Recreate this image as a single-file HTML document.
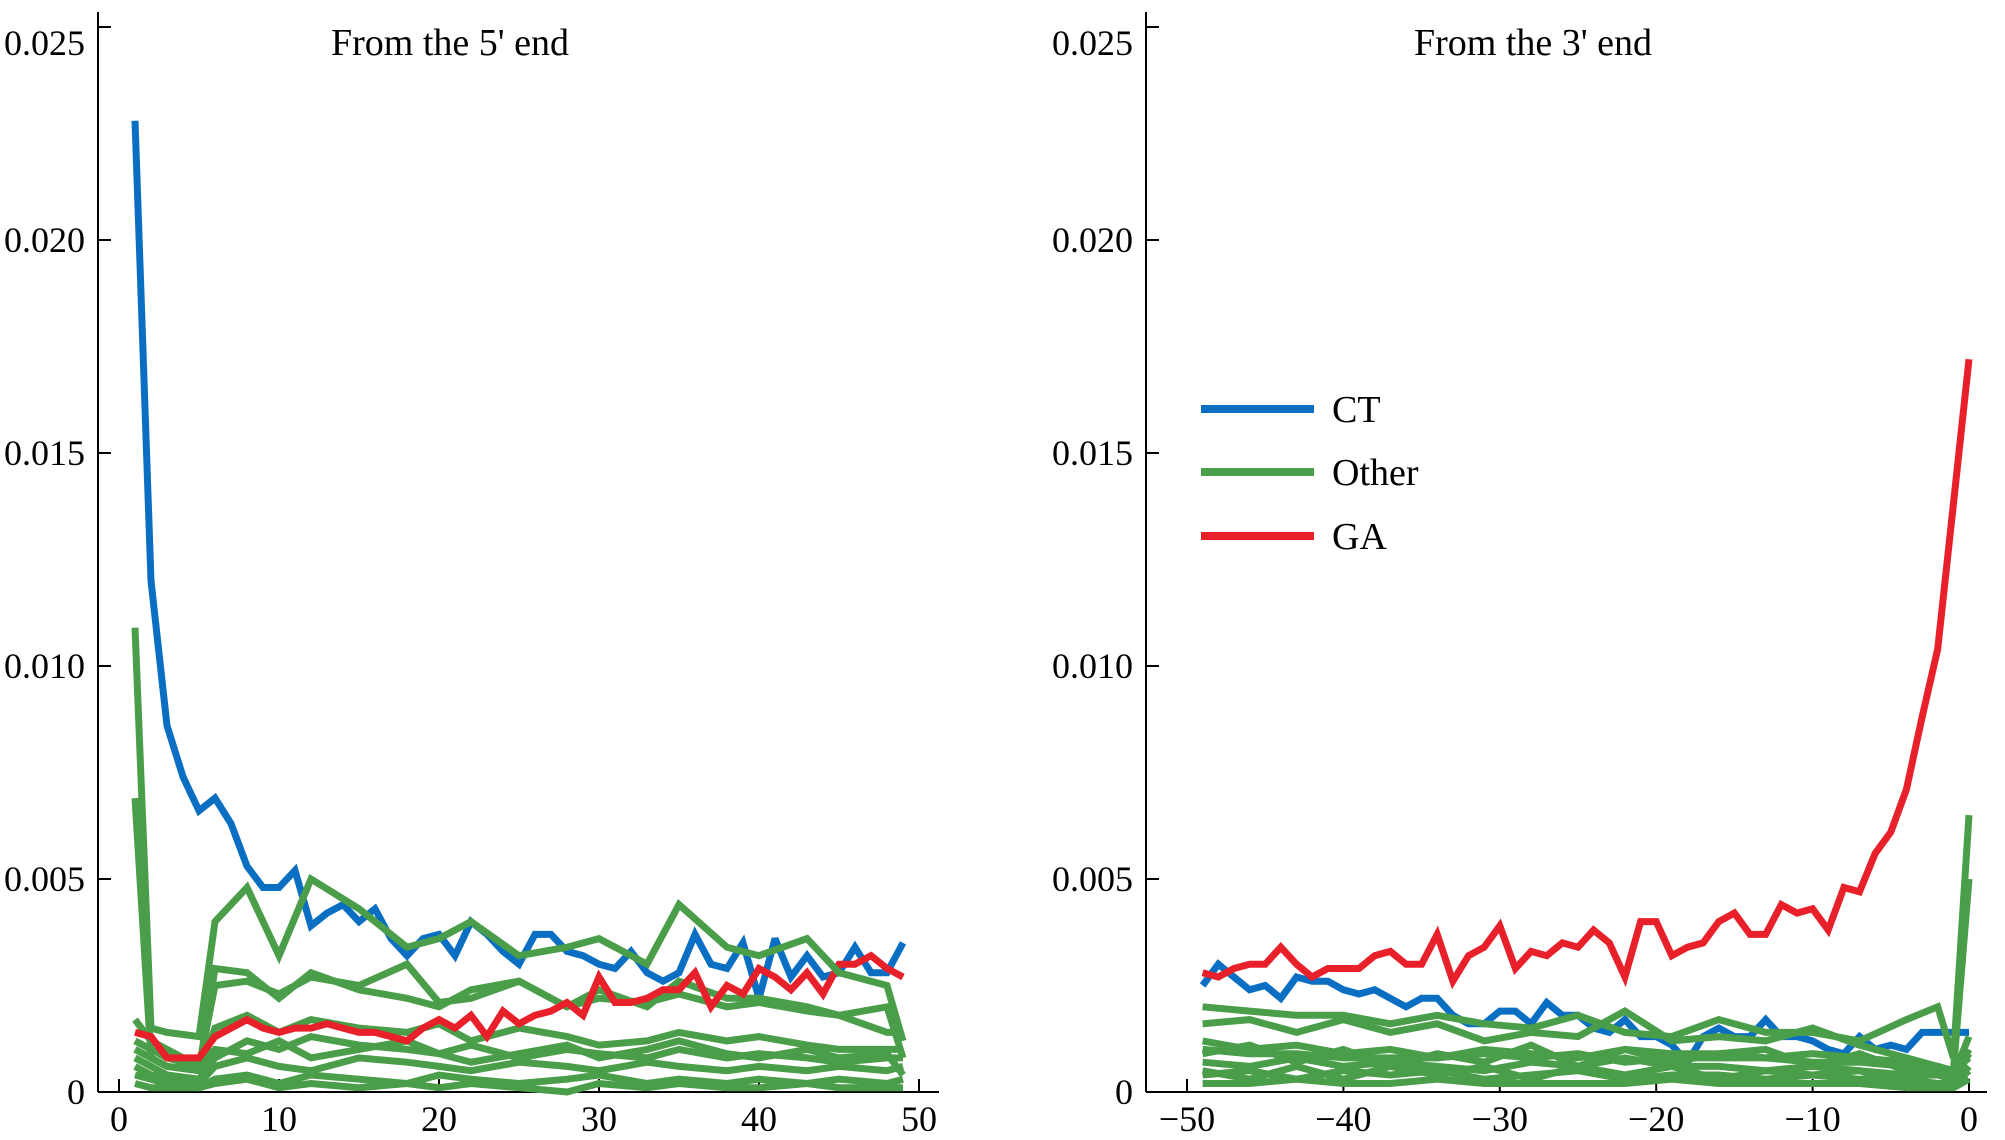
<!DOCTYPE html>
<html><head><meta charset="utf-8"><style>
html,body{margin:0;padding:0;background:#fff;}
svg{display:block;font-family:"Liberation Serif",serif;}
</style></head><body>
<svg id="chart" width="2005" height="1140" viewBox="0 0 2005 1140" xmlns="http://www.w3.org/2000/svg">
<g id="axes"></g><g id="marks"></g>
<g>
<line x1="1201" y1="409" x2="1314" y2="409" stroke="#0a6fc2" stroke-width="8"/>
<text x="1332" y="422" font-size="38">CT</text>
<line x1="1201" y1="472" x2="1314" y2="472" stroke="#4a9e4a" stroke-width="8"/>
<text x="1332" y="485" font-size="38">Other</text>
<line x1="1201" y1="536" x2="1314" y2="536" stroke="#e8202a" stroke-width="8"/>
<text x="1332" y="549" font-size="38">GA</text>
</g>
</svg>
<script>
const yTicks=[0,0.005,0.010,0.015,0.020,0.025];
const yTickLabels=["0","0.005","0.010","0.015","0.020","0.025"];
const xTicksL=[0,10,20,30,40,50];
const xTicksR=[-50,-40,-30,-20,-10,0];
const xTickLabelsR=["\u221250","\u221240","\u221230","\u221220","\u221210","0"];
const titles=["From the 5' end","From the 3' end"];
// Left panel
const xL=[1,2,3,4,5,6,7,8,9,10,11,12,13,14,15,16,17,18,19,20,21,22,23,24,25,26,27,28,29,30,31,32,33,34,35,36,37,38,39,40,41,42,43,44,45,46,47,48,49];
const ctL=[0.0228,0.012,0.0086,0.0074,0.0066,0.0069,0.0063,0.0053,0.0048,0.0048,0.0052,0.0039,0.0042,0.0044,0.0040,0.0043,0.0036,0.0032,0.0036,0.0037,0.0032,0.0040,0.0037,0.0033,0.0030,0.0037,0.0037,0.0033,0.0032,0.0030,0.0029,0.0033,0.0028,0.0026,0.0028,0.0037,0.0030,0.0029,0.0035,0.0022,0.0036,0.0027,0.0032,0.0027,0.0028,0.0034,0.0028,0.0028,0.0035];
const gaL=[0.0014,0.0013,0.0008,0.0008,0.0008,0.0013,0.0015,0.0017,0.0015,0.0014,0.0015,0.0015,0.0016,0.0015,0.0014,0.0014,0.0013,0.0012,0.0015,0.0017,0.0015,0.0018,0.0013,0.0019,0.0016,0.0018,0.0019,0.0021,0.0018,0.0027,0.0021,0.0021,0.0022,0.0024,0.0024,0.0028,0.0020,0.0025,0.0023,0.0029,0.0027,0.0024,0.0028,0.0023,0.0030,0.0030,0.0032,0.0029,0.0027];
const xOtherL=[1,2,3,5,6,8,10,12,15,18,20,22,25,28,30,33,35,38,40,43,45,48,49];
const otherL1=[0.0109,0.0015,0.0014,0.0013,0.0040,0.0048,0.0032,0.0050,0.0043,0.0034,0.0036,0.0040,0.0032,0.0034,0.0036,0.0030,0.0044,0.0034,0.0032,0.0036,0.0028,0.0025,0.0012];
const otherL2=[0.0069,0.0008,0.0006,0.0005,0.0029,0.0028,0.0022,0.0028,0.0024,0.0022,0.0020,0.0024,0.0026,0.0020,0.0024,0.0020,0.0026,0.0022,0.0022,0.0020,0.0018,0.0020,0.0008];
const otherL3=[0.0017,0.0012,0.0010,0.0006,0.0025,0.0026,0.0023,0.0027,0.0025,0.0030,0.0021,0.0022,0.0026,0.0020,0.0022,0.0021,0.0023,0.0020,0.0021,0.0019,0.0018,0.0014,0.0014];
const otherL4=[0.0010,0.0008,0.0006,0.0005,0.0015,0.0018,0.0014,0.0017,0.0015,0.0014,0.0016,0.0012,0.0015,0.0013,0.0011,0.0012,0.0014,0.0012,0.0013,0.0011,0.0010,0.0010,0.0010];
const otherL5=[0.0008,0.0006,0.0004,0.0003,0.0008,0.0012,0.0010,0.0013,0.0011,0.0010,0.0009,0.0011,0.0008,0.0010,0.0009,0.0008,0.0010,0.0008,0.0009,0.0008,0.0007,0.0008,0.0008];
const otherL6=[0.0006,0.0004,0.0003,0.0002,0.0006,0.0008,0.0006,0.0005,0.0008,0.0007,0.0006,0.0005,0.0007,0.0006,0.0005,0.0007,0.0006,0.0005,0.0006,0.0005,0.0006,0.0005,0.0006];
const otherL7=[0.0004,0.0003,0.0002,0.0001,0.0003,0.0004,0.0002,0.0004,0.0003,0.0002,0.0004,0.0003,0.0002,0.0003,0.0004,0.0002,0.0003,0.0002,0.0003,0.0002,0.0003,0.0002,0.0003];
const otherL8=[0.0012,0.0010,0.0008,0.0006,0.0010,0.0009,0.0012,0.0008,0.0010,0.0012,0.0009,0.0007,0.0009,0.0011,0.0008,0.0010,0.0012,0.0009,0.0008,0.0010,0.0008,0.0009,0.0004];
const otherL9=[0.0002,0.0001,0.0001,0.0001,0.0002,0.0003,0.0001,0.0002,0.0001,0.0002,0.0001,0.0002,0.0001,0.0000,0.0002,0.0001,0.0002,0.0001,0.0001,0.0002,0.0001,0.0001,0.0001];
// Right panel
const xR=[-49,-48,-47,-46,-45,-44,-43,-42,-41,-40,-39,-38,-37,-36,-35,-34,-33,-32,-31,-30,-29,-28,-27,-26,-25,-24,-23,-22,-21,-20,-19,-18,-17,-16,-15,-14,-13,-12,-11,-10,-9,-8,-7,-6,-5,-4,-3,-2,-1,0];
const gaR=[0.0028,0.0027,0.0029,0.0030,0.0030,0.0034,0.0030,0.0027,0.0029,0.0029,0.0029,0.0032,0.0033,0.0030,0.0030,0.0037,0.0026,0.0032,0.0034,0.0039,0.0029,0.0033,0.0032,0.0035,0.0034,0.0038,0.0035,0.0027,0.0040,0.0040,0.0032,0.0034,0.0035,0.0040,0.0042,0.0037,0.0037,0.0044,0.0042,0.0043,0.0038,0.0048,0.0047,0.0056,0.0061,0.0071,0.0088,0.0104,0.0138,0.0172];
const ctR=[0.0025,0.0030,0.0027,0.0024,0.0025,0.0022,0.0027,0.0026,0.0026,0.0024,0.0023,0.0024,0.0022,0.0020,0.0022,0.0022,0.0018,0.0016,0.0016,0.0019,0.0019,0.0016,0.0021,0.0018,0.0018,0.0015,0.0014,0.0017,0.0013,0.0013,0.0011,0.0007,0.0013,0.0015,0.0013,0.0013,0.0017,0.0013,0.0013,0.0012,0.0010,0.0009,0.0013,0.0010,0.0011,0.0010,0.0014,0.0014,0.0014,0.0014];
const xOtherR=[-49,-46,-43,-40,-37,-34,-31,-28,-25,-22,-19,-16,-13,-10,-7,-4,-2,-1,0];
const otherR1=[0.0020,0.0019,0.0018,0.0018,0.0016,0.0018,0.0016,0.0015,0.0018,0.0014,0.0013,0.0017,0.0014,0.0014,0.0012,0.0017,0.0020,0.0008,0.0065];
const otherR2=[0.0016,0.0017,0.0014,0.0017,0.0014,0.0016,0.0012,0.0014,0.0013,0.0019,0.0012,0.0013,0.0012,0.0015,0.0011,0.0008,0.0006,0.0005,0.0050];
const otherR3=[0.0010,0.0009,0.0009,0.0008,0.0008,0.0008,0.0009,0.0008,0.0009,0.0007,0.0008,0.0008,0.0008,0.0007,0.0007,0.0006,0.0005,0.0004,0.0013];
const otherR4=[0.0007,0.0006,0.0008,0.0006,0.0007,0.0006,0.0005,0.0007,0.0006,0.0008,0.0006,0.0006,0.0005,0.0006,0.0005,0.0004,0.0004,0.0003,0.0010];
const otherR5=[0.0004,0.0005,0.0003,0.0005,0.0004,0.0005,0.0003,0.0004,0.0005,0.0003,0.0004,0.0004,0.0003,0.0004,0.0003,0.0003,0.0002,0.0002,0.0006];
const otherR6=[0.0002,0.0002,0.0003,0.0002,0.0002,0.0003,0.0002,0.0002,0.0002,0.0002,0.0003,0.0002,0.0002,0.0002,0.0002,0.0001,0.0001,0.0001,0.0003];
const otherR7=[0.0012,0.0010,0.0011,0.0009,0.0010,0.0008,0.0010,0.0009,0.0008,0.0010,0.0009,0.0009,0.0008,0.0009,0.0008,0.0007,0.0006,0.0005,0.0008];
const otherR8=[0.0009,0.0011,0.0007,0.0010,0.0006,0.0009,0.0007,0.0011,0.0006,0.0010,0.0007,0.0009,0.0010,0.0006,0.0009,0.0005,0.0004,0.0003,0.0009];
const otherR9=[0.0005,0.0003,0.0006,0.0003,0.0006,0.0004,0.0006,0.0003,0.0006,0.0004,0.0006,0.0003,0.0005,0.0004,0.0005,0.0002,0.0002,0.0002,0.0005];

const NS="http://www.w3.org/2000/svg";
const axesG=document.getElementById('axes'), marksG=document.getElementById('marks');
const yS=v=>1092-v*42600;
const xSL=v=>119+v*16;
const xSR=v=>1969+v*15.64;
function mk(tag,attrs,parent,txt){const e=document.createElementNS(NS,tag);for(const k in attrs)e.setAttribute(k,attrs[k]);if(txt!==undefined)e.textContent=txt;parent.appendChild(e);return e;}
function panel(axX,axEnd,xTicks,xLabels,xS,title,titleX,labelRight,pname){
  const g=mk('g',{},axesG);
  
  
  const ya=mk('line',{x1:axX,y1:12,x2:axX,y2:1092,stroke:'#000','stroke-width':2},g);
  
  
  const xa=mk('line',{x1:axX,y1:1092,x2:axEnd,y2:1092,stroke:'#000','stroke-width':2},g);
  
  
  yTicks.forEach((t,i)=>{
    const y=yS(t);
    mk('line',{x1:axX,y1:y,x2:axX+13,y2:y,stroke:'#000','stroke-width':2},g);
    const tx=mk('text',{x:labelRight,y:y+(i===yTicks.length-1?28:12),'text-anchor':'end','font-size':36},g,yTickLabels[i]);
    
    
  });
  xTicks.forEach((t,i)=>{
    const x=xS(t);
    mk('line',{x1:x,y1:1092,x2:x,y2:1079,stroke:'#000','stroke-width':2},g);
    const tx=mk('text',{x:x,y:1131,'text-anchor':'middle','font-size':36},g,xLabels[i]);
    
    
  });
  const tt=mk('text',{x:titleX,y:55,'text-anchor':'middle','font-size':38},g,title);
  
  
}
panel(98,939,xTicksL,xTicksL.map(String),xSL,titles[0],450,85,'left-panel');
panel(1146,1987,xTicksR,xTickLabelsR,xSR,titles[1],1533,1133,'right-panel');
function series(xs,vs,xS,color,name){
  const d=xs.map((x,i)=>(i?'L':'M')+xS(x).toFixed(1)+','+yS(vs[i]).toFixed(1)).join(' ');
  const p=mk('path',{d:d,fill:'none',stroke:color,'stroke-width':7,'stroke-linejoin':'miter','stroke-miterlimit':3},marksG);
  
  
}
const G='#4a9e4a',B='#0a6fc2',R='#e8202a';
series(xL,ctL,xSL,B,'left-ct-line');
[otherL9,otherL7,otherL6,otherL5,otherL8,otherL4,otherL3,otherL2].forEach((s,i)=>series(xOtherL,s,xSL,G,'left-other-line-'+i));
series(xL,gaL,xSL,R,'left-ga-line');
series(xOtherL,otherL1,xSL,G,'left-other-line-top');
series(xR,ctR,xSR,B,'right-ct-line');
[otherR6,otherR9,otherR5,otherR4,otherR8,otherR3,otherR7,otherR2,otherR1].forEach((s,i)=>series(xOtherR,s,xSR,G,'right-other-line-'+i));
series(xR,gaR,xSR,R,'right-ga-line');
</script>
</body></html>
